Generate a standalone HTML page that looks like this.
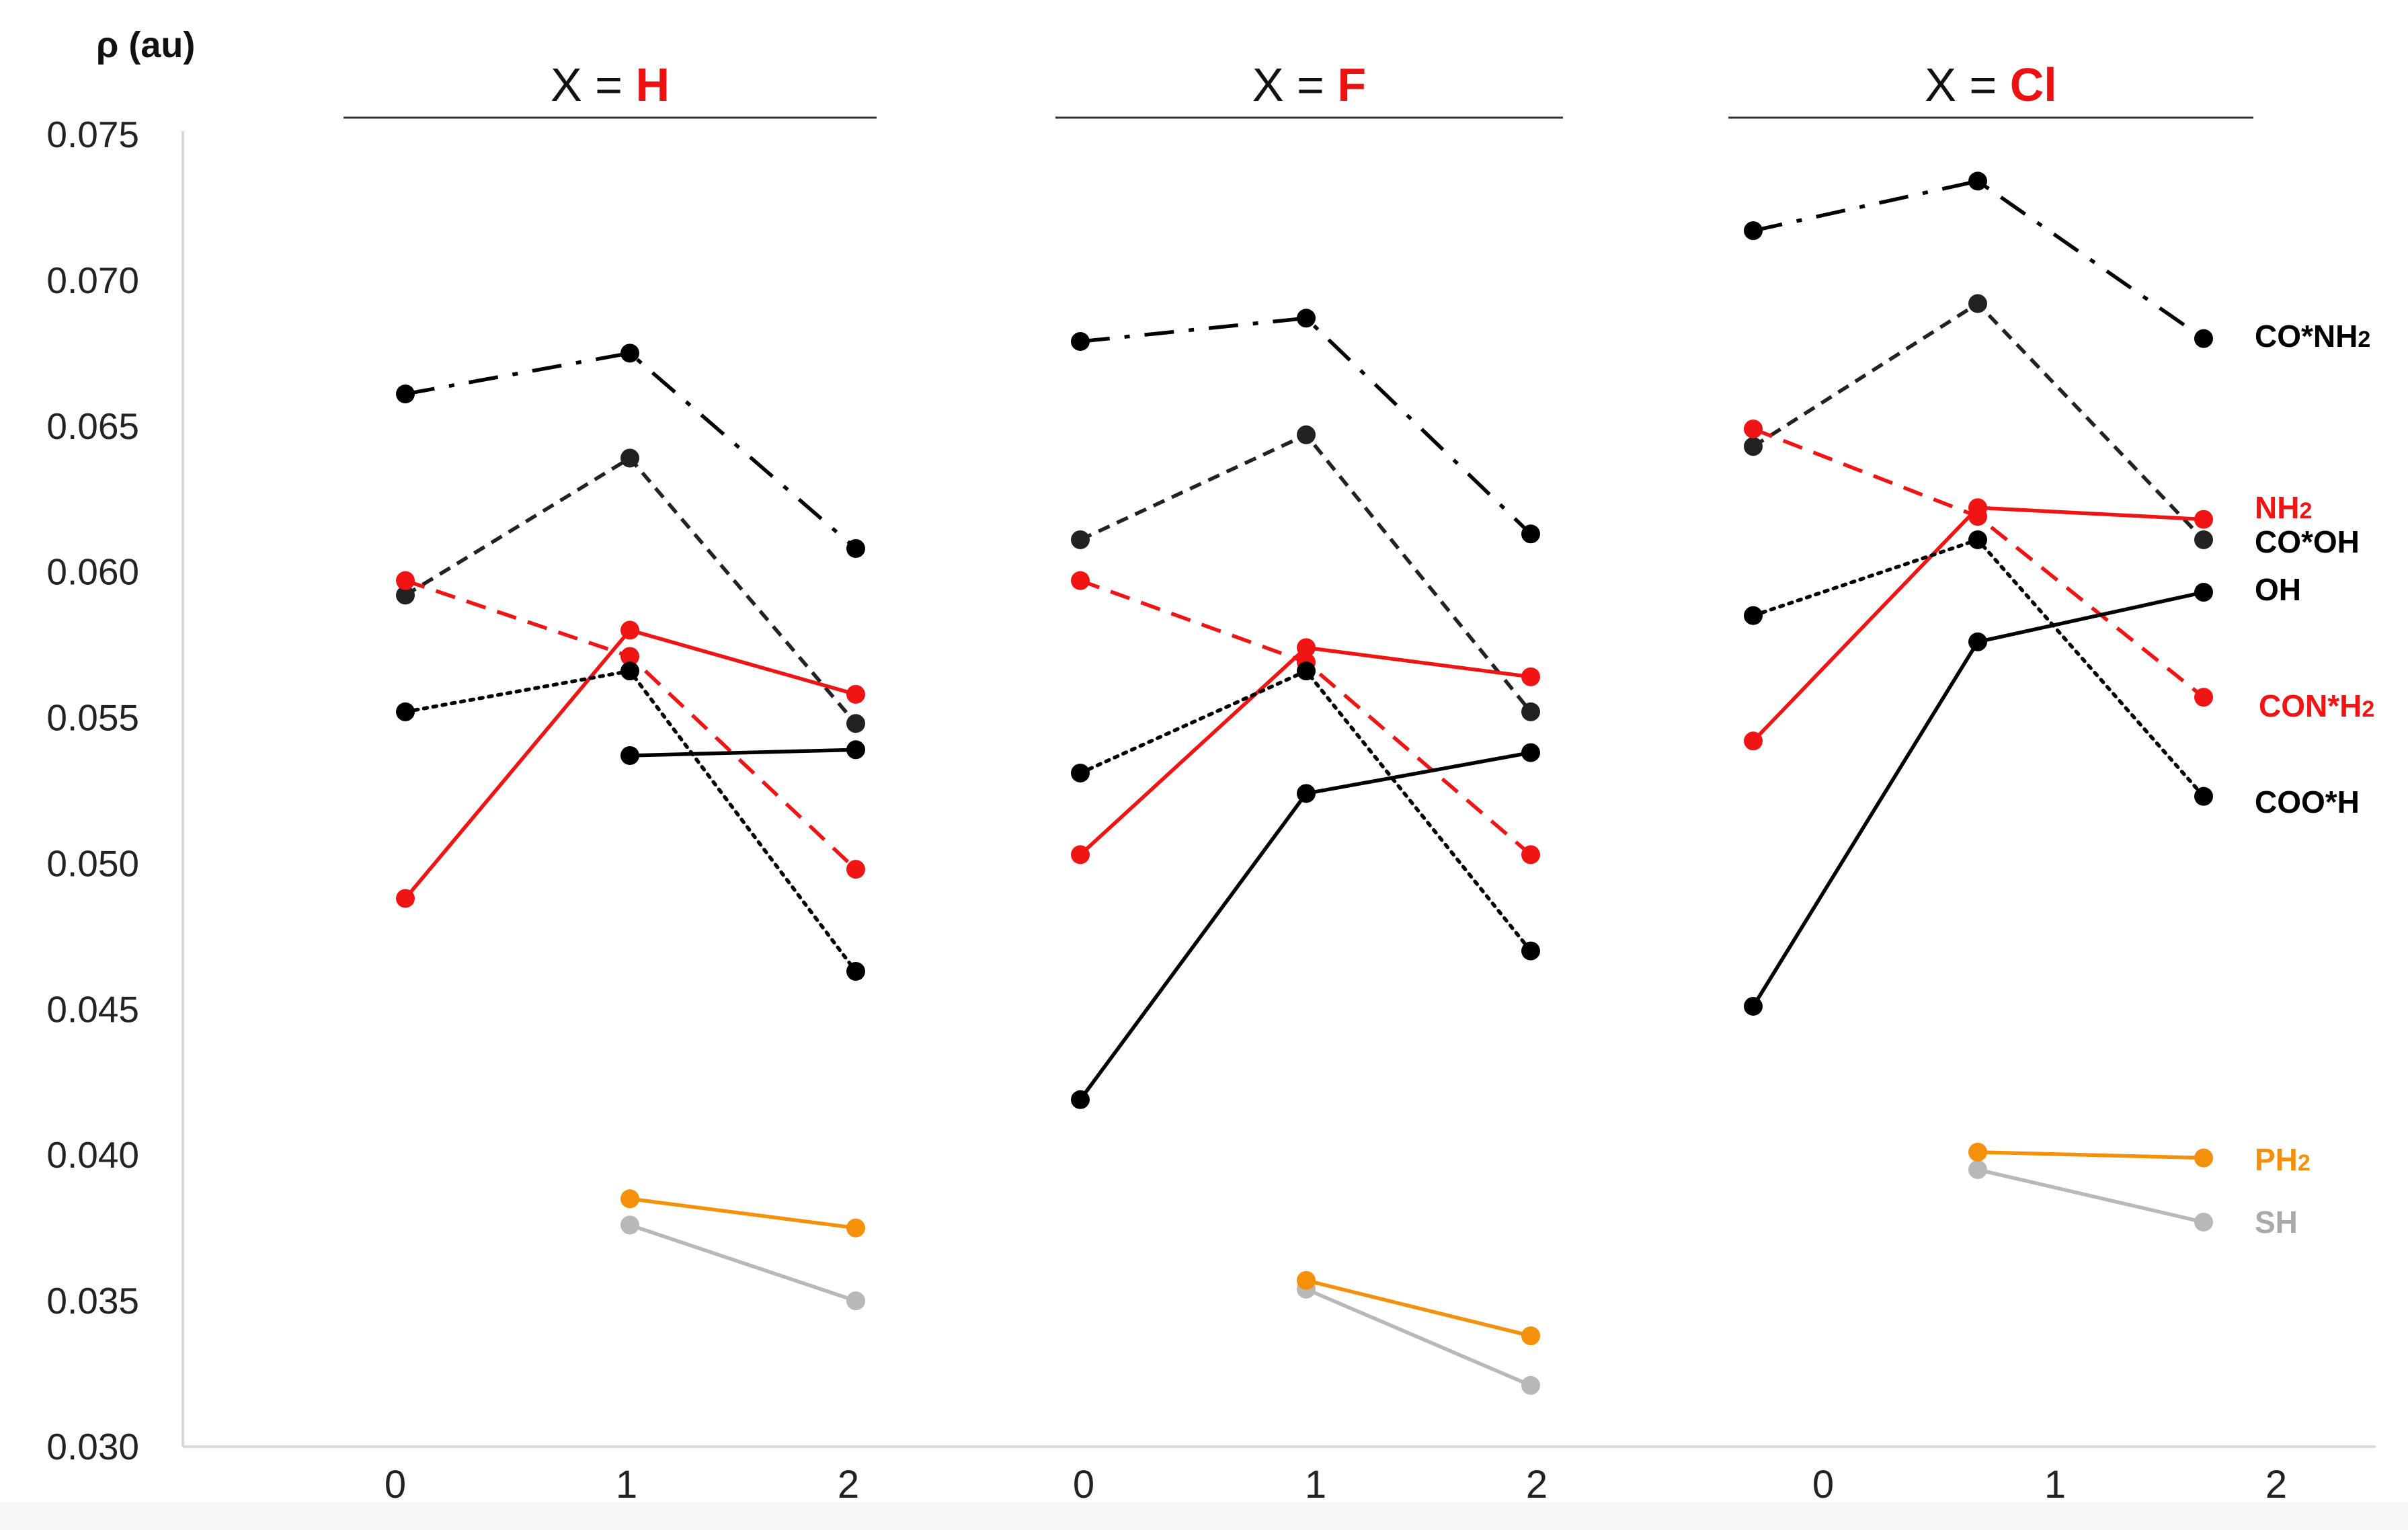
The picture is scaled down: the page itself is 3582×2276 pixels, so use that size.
<!DOCTYPE html>
<html><head><meta charset="utf-8"><style>
html,body{margin:0;padding:0;background:#fff;}
svg{display:block;font-family:"Liberation Sans",sans-serif;}
</style></head><body>
<svg id="chart" width="3582" height="2276" viewBox="0 0 3582 2276" xmlns="http://www.w3.org/2000/svg">
<rect x="0" y="0" width="3582" height="2276" fill="#fff"/>
<rect x="0" y="2235" width="3582" height="41" fill="#f6f6f6"/>
<g id="axes"></g>
<g id="series"></g>
<g id="labels"></g>
</svg>
<script>
const yTicks = [0.030,0.035,0.040,0.045,0.050,0.055,0.060,0.065,0.070,0.075];
const yTickLabels = ["0.030","0.035","0.040","0.045","0.050","0.055","0.060","0.065","0.070","0.075"];
const panels = ["H","F","Cl"];
const xCats = [0,1,2];
const seriesNames = ["CO*NH2","CO*OH","NH2","CON*H2","COO*H","OH","PH2","SH"];
const coNH2 = [[0.0661,0.0675,0.0608],[0.0679,0.0687,0.0613],[0.0717,0.0734,0.0680]];
const coOH  = [[0.0592,0.0639,0.0548],[0.0611,0.0647,0.0552],[0.0643,0.0692,0.0611]];
const nh2   = [[0.0488,0.0580,0.0558],[0.0503,0.0574,0.0564],[0.0542,0.0622,0.0618]];
const conH2 = [[0.0597,0.0571,0.0498],[0.0597,0.0569,0.0503],[0.0649,0.0619,0.0557]];
const cooH  = [[0.0552,0.0566,0.0463],[0.0531,0.0566,0.0470],[0.0585,0.0611,0.0523]];
const oh    = [[null,0.0537,0.0539],[0.0419,0.0524,0.0538],[0.0451,0.0576,0.0593]];
const ph2   = [[null,0.0385,0.0375],[null,0.0357,0.0338],[null,0.0401,0.0399]];
const sh    = [[null,0.0376,0.0350],[null,0.0354,0.0321],[null,0.0395,0.0377]];

const NS="http://www.w3.org/2000/svg";
const Y0=2152, Y1=200, VMIN=0.030, VMAX=0.075;
function yS(v){return Y0-(v-VMIN)/(VMAX-VMIN)*(Y0-Y1);}
const panelX=[[603,937,1273],[1607,1943,2277],[2608,2942,3278]];
const panelLabelX=[[588,932,1262],[1612,1957,2286],[2712,3057,3386]];
function xS(p,i){return panelX[p][i];}
function mk(tag,attrs,parent){const e=document.createElementNS(NS,tag);for(const k in attrs)e.setAttribute(k,attrs[k]);parent.appendChild(e);return e;}

const axes=document.getElementById('axes');
let a=mk('line',{x1:272,y1:195,x2:272,y2:Y0,stroke:'#d9d9d9','stroke-width':4},axes);


a=mk('line',{x1:272,y1:Y0,x2:3534,y2:Y0,stroke:'#d9d9d9','stroke-width':4},axes);


yTicks.forEach((v,i)=>{
  const t=mk('text',{x:207,y:yS(v)+19,'text-anchor':'end','font-size':55,fill:'#222'},axes);
  t.textContent=yTickLabels[i];
  
  
});
let yt=mk('text',{x:143,y:85,'font-size':54,'font-weight':'bold',fill:'#111'},axes);
yt.textContent='ρ (au)';


const titleSpan=[[511,1304],[1570,2325],[2571,3352]];
panels.forEach((p,pi)=>{
  xCats.forEach((c,i)=>{
    const t=mk('text',{x:panelLabelX[pi][i],y:2228,'text-anchor':'middle','font-size':58,fill:'#222'},axes);
    t.textContent=String(c);
    
    
  });
  const [l,r]=titleSpan[pi];
  const ln=mk('line',{x1:l,y1:175,x2:r,y2:175,stroke:'#333','stroke-width':3},axes);
  
  
  const tt=mk('text',{x:(l+r)/2,y:150,'text-anchor':'middle','font-size':70,fill:'#111'},axes);
  
  
  tt.appendChild(document.createTextNode('X = '));
  const sp=mk('tspan',{fill:'#ee1111','font-weight':'bold'},tt);
  sp.textContent=p;
});

const styles=[
 {d:coNH2,c:'#000',dash:'44 22 8 22',name:'co-nh2'},
 {d:coOH,c:'#222',dash:'18 12',name:'co-oh'},
 {d:nh2,c:'#f01414',dash:'',name:'nh2'},
 {d:conH2,c:'#f01414',dash:'30 18',name:'con-h2'},
 {d:cooH,c:'#000',dash:'5 9',name:'coo-h'},
 {d:oh,c:'#000',dash:'',name:'oh'},
 {d:sh,c:'#b8b8b8',dash:'',name:'sh'},
 {d:ph2,c:'#f5900a',dash:'',name:'ph2'}
];
const sg=document.getElementById('series');
styles.forEach(s=>{
  s.d.forEach((vals,pi)=>{
    const pts=[];
    vals.forEach((v,i)=>{if(v!==null)pts.push([xS(pi,i),yS(v)]);});
    const pl=mk('polyline',{points:pts.map(q=>q.join(',')).join(' '),fill:'none',stroke:s.c,'stroke-width':5.5,'stroke-dasharray':s.dash||'none','stroke-linecap':s.name==='coo-h'?'round':'butt'},sg);
    
    
    pts.forEach(q=>{
      const c=mk('circle',{cx:q[0],cy:q[1],r:14,fill:s.c},sg);
      
      
    });
  });
});

const labelDefs=[
 ['CO*NH','2','#000',500],['NH','2','#f01414',755],['CO*OH','','#000',806],['OH','','#000',877],
 ['CON*H','2','#f01414',1050],['COO*H','','#000',1193],['PH','2','#f5900a',1725],['SH','','#aaa',1818]
];
const lg=document.getElementById('labels');
labelDefs.forEach(d=>{
  const t=mk('text',{x:d[0]==='CON*H'?3360:3354,y:d[3]+16,'font-size':46,'font-weight':'bold',fill:d[2]},lg);
  
  
  t.appendChild(document.createTextNode(d[0]));
  if(d[1]){const s=mk('tspan',{'font-size':34},t);s.textContent=d[1];}
});
</script>
</body></html>
